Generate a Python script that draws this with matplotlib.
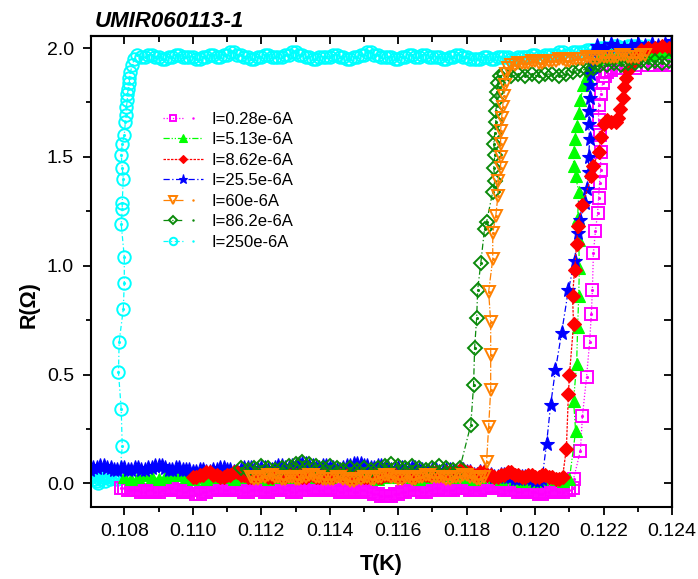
import matplotlib
matplotlib.use('Agg')
import matplotlib.pyplot as plt
from matplotlib.ticker import MultipleLocator, FormatStrFormatter, NullFormatter
from matplotlib.legend_handler import HandlerTuple

plt.rcParams['font.family'] = ['Liberation Sans', 'DejaVu Sans']

# ---- data: T in K, R in ohm ----
labels = ['I=0.28e-6A', 'I=5.13e-6A', 'I=8.62e-6A', 'I=25.5e-6A',
          'I=60e-6A', 'I=86.2e-6A', 'I=250e-6A']

# I = 0.28e-6 A (magenta)
T_mag_base = [0.1079,
              0.1080, 0.1081, 0.1082, 0.1083, 0.1084, 0.1085, 0.1086, 0.1087, 0.1088, 0.1089,
              0.1090, 0.1091, 0.1092, 0.1093, 0.1094, 0.1095, 0.1096, 0.1097, 0.1098, 0.1099,
              0.1100, 0.1101, 0.1102, 0.1103, 0.1104, 0.1105, 0.1106, 0.1107, 0.1108, 0.1109,
              0.1110, 0.1111, 0.1112, 0.1113, 0.1114, 0.1115, 0.1116, 0.1117, 0.1118, 0.1119,
              0.1120, 0.1121, 0.1122, 0.1123, 0.1124, 0.1125, 0.1126, 0.1127, 0.1128, 0.1129,
              0.1130, 0.1131, 0.1132, 0.1133, 0.1134, 0.1135, 0.1136, 0.1137, 0.1138, 0.1139,
              0.1140, 0.1141, 0.1142, 0.1143, 0.1144, 0.1145, 0.1146, 0.1147, 0.1148, 0.1149,
              0.1150, 0.1151, 0.1152, 0.1153, 0.1154, 0.1155, 0.1156, 0.1157, 0.1158, 0.1159,
              0.1160, 0.1161, 0.1162, 0.1163, 0.1164, 0.1165, 0.1166, 0.1167, 0.1168, 0.1169,
              0.1170, 0.1171, 0.1172, 0.1173, 0.1174, 0.1175, 0.1176, 0.1177, 0.1178, 0.1179,
              0.1180, 0.1181, 0.1182, 0.1183, 0.1184, 0.1185, 0.1186, 0.1187, 0.1188, 0.1189,
              0.1190, 0.1191, 0.1192, 0.1193, 0.1194, 0.1195, 0.1196, 0.1197, 0.1198, 0.1199,
              0.1200, 0.1201, 0.1202, 0.1203, 0.1204, 0.1205, 0.1206, 0.1207, 0.1208, 0.1209,
              0.1210, 0.1211]
R_mag_base = [-0.02,
              -0.02, -0.03, -0.03, -0.03, -0.03, -0.04, -0.04, -0.03, -0.03, -0.04,
              -0.04, -0.03, -0.03, -0.02, -0.02, -0.03, -0.03, -0.04, -0.04, -0.03,
              -0.03, -0.05, -0.05, -0.04, -0.04, -0.03, -0.03, -0.02, -0.02, -0.03,
              -0.03, -0.02, -0.02, -0.03, -0.03, -0.04, -0.04, -0.03, -0.03, -0.03,
              -0.03, -0.04, -0.04, -0.03, -0.03, -0.02, -0.02, -0.03, -0.03, -0.04,
              -0.04, -0.03, -0.03, -0.03, -0.03, -0.02, -0.02, -0.03, -0.03, -0.02,
              -0.02, -0.03, -0.03, -0.04, -0.04, -0.03, -0.03, -0.04, -0.04, -0.03,
              -0.03, -0.04, -0.04, -0.05, -0.05, -0.06, -0.06, -0.06, -0.06, -0.05,
              -0.05, -0.04, -0.04, -0.03, -0.03, -0.03, -0.03, -0.04, -0.04, -0.03,
              -0.03, -0.02, -0.02, -0.03, -0.03, -0.03, -0.03, -0.02, -0.02, -0.02,
              -0.02, -0.03, -0.03, -0.03, -0.03, -0.02, -0.02, -0.01, -0.01, -0.02,
              -0.02, -0.03, -0.03, -0.03, -0.03, -0.04, -0.04, -0.03, -0.03, -0.04,
              -0.04, -0.05, -0.05, -0.04, -0.04, -0.03, -0.03, -0.04, -0.04, -0.03,
              -0.03, -0.02]
T_mag_rise = [0.12112, 0.12132, 0.12138, 0.12150, 0.12159, 0.12164, 0.12167, 0.12170, 0.12176, 0.12182,
              0.12185, 0.12188, 0.12191, 0.12191, 0.12188, 0.12185, 0.12185, 0.12191, 0.12197, 0.12203,
              0.1221, 0.1222, 0.1223, 0.1225, 0.1227, 0.1229, 0.1231, 0.1233, 0.1235, 0.1237, 0.1239]
R_mag_rise = [0.02, 0.15, 0.31, 0.49, 0.65, 0.78, 0.89, 1.06, 1.16, 1.24,
              1.31, 1.38, 1.44, 1.52, 1.60, 1.67, 1.74, 1.79, 1.84, 1.87,
              1.89, 1.90, 1.91, 1.91, 1.92, 1.91, 1.92, 1.92, 1.92, 1.93, 1.92]

# I = 5.13e-6 A (lime)
T_lime_base = [0.1080, 0.1082, 0.1084, 0.1086, 0.1088, 0.1090, 0.1092, 0.1094, 0.1096, 0.1098,
               0.1100, 0.1102, 0.1104, 0.1106, 0.1108, 0.1110, 0.1112, 0.1114, 0.1116, 0.1118,
               0.1120, 0.1122, 0.1124, 0.1126, 0.1128, 0.1130, 0.1132, 0.1134, 0.1136, 0.1138,
               0.1140, 0.1142, 0.1144, 0.1146, 0.1148, 0.1150, 0.1152, 0.1154, 0.1156, 0.1158,
               0.1160, 0.1162, 0.1164, 0.1166, 0.1168, 0.1170, 0.1172, 0.1174, 0.1176, 0.1178,
               0.1180, 0.1182, 0.1184, 0.1186, 0.1188, 0.1190, 0.1192, 0.1194, 0.1196, 0.1198,
               0.1200, 0.1202, 0.1204, 0.1206, 0.1208, 0.1210]
R_lime_base = [0.03, 0.02, 0.03, 0.04, 0.03, 0.02, 0.03, 0.04, 0.04, 0.03,
               0.02, 0.03, 0.02, 0.03, 0.04, 0.03, 0.02, 0.03, 0.04, 0.03,
               0.03, 0.02, 0.03, 0.04, 0.03, 0.04, 0.05, 0.04, 0.03, 0.04,
               0.03, 0.04, 0.05, 0.04, 0.03, 0.04, 0.03, 0.02, 0.03, 0.04,
               0.03, 0.04, 0.03, 0.02, 0.03, 0.04, 0.05, 0.04, 0.03, 0.04,
               0.03, 0.02, 0.03, 0.04, 0.03, 0.02, 0.03, 0.02, 0.01, 0.02,
               0.01, 0.02, 0.03, 0.02, 0.01, 0.02]
T_lime_rise = [0.12118, 0.12112, 0.12121, 0.12124, 0.12127, 0.12129, 0.12127, 0.12124, 0.12127, 0.12118,
               0.12112, 0.12112, 0.12115, 0.12121, 0.12127, 0.12132, 0.12141, 0.12150, 0.12162, 0.1218,
               0.1220, 0.1222, 0.1224, 0.1226, 0.1228, 0.1230, 0.1232, 0.1234, 0.1236, 0.1238, 0.1240]
R_lime_rise = [0.24, 0.38, 0.55, 0.72, 0.86, 0.99, 1.12, 1.22, 1.34, 1.41,
               1.46, 1.52, 1.58, 1.64, 1.70, 1.76, 1.83, 1.87, 1.92, 1.95,
               1.96, 1.97, 1.96, 1.97, 1.98, 1.97, 1.98, 1.97, 1.98, 1.99, 1.98]

# I = 8.62e-6 A (red)
T_red_base = [0.1100, 0.1101, 0.1102, 0.1103, 0.1104, 0.1105, 0.1106, 0.1107, 0.1108, 0.1109,
              0.1110, 0.1111, 0.1112, 0.1113, 0.1114, 0.1115, 0.1116, 0.1117, 0.1118, 0.1119,
              0.1120, 0.1121, 0.1122, 0.1123, 0.1124, 0.1125, 0.1126, 0.1127, 0.1128, 0.1129,
              0.1130, 0.1131, 0.1132, 0.1133, 0.1134, 0.1135, 0.1136, 0.1137, 0.1138, 0.1139,
              0.1140, 0.1141, 0.1142, 0.1143, 0.1144, 0.1145, 0.1146, 0.1147, 0.1148, 0.1149,
              0.1150, 0.1151, 0.1152, 0.1153, 0.1154, 0.1155, 0.1156, 0.1157, 0.1158, 0.1159,
              0.1160, 0.1161, 0.1162, 0.1163, 0.1164, 0.1165, 0.1166, 0.1167, 0.1168, 0.1169,
              0.1170, 0.1171, 0.1172, 0.1173, 0.1174, 0.1175, 0.1176, 0.1177, 0.1178, 0.1179,
              0.1180, 0.1181, 0.1182, 0.1183, 0.1184, 0.1185, 0.1186, 0.1187, 0.1188, 0.1189,
              0.1190, 0.1191, 0.1192, 0.1193, 0.1194, 0.1195, 0.1196, 0.1197, 0.1198, 0.1199,
              0.1200, 0.1201, 0.1202, 0.1203, 0.1204, 0.1205, 0.1206, 0.1207, 0.1208]
R_red_base = [0.03, 0.03, 0.04, 0.04, 0.05, 0.05, 0.04, 0.04, 0.03, 0.03,
              0.04, 0.04, 0.05, 0.05, 0.04, 0.04, 0.03, 0.03, 0.04, 0.04,
              0.04, 0.04, 0.03, 0.03, 0.04, 0.04, 0.03, 0.03, 0.04, 0.04,
              0.04, 0.04, 0.03, 0.03, 0.04, 0.04, 0.03, 0.03, 0.04, 0.04,
              0.03, 0.03, 0.04, 0.04, 0.04, 0.04, 0.03, 0.03, 0.04, 0.04,
              0.03, 0.03, 0.04, 0.04, 0.03, 0.03, 0.04, 0.04, 0.04, 0.04,
              0.03, 0.03, 0.04, 0.04, 0.03, 0.03, 0.04, 0.04, 0.04, 0.04,
              0.05, 0.05, 0.04, 0.04, 0.05, 0.05, 0.04, 0.05, 0.06, 0.06,
              0.05, 0.05, 0.04, 0.04, 0.05, 0.05, 0.04, 0.04, 0.03, 0.03,
              0.04, 0.04, 0.05, 0.05, 0.04, 0.04, 0.03, 0.03, 0.04, 0.04,
              0.03, 0.03, 0.04, 0.04, 0.03, 0.03, 0.02, 0.02, 0.03]
T_red_rise = [0.12091, 0.12097, 0.12100, 0.12112, 0.12109, 0.12115, 0.12121, 0.12124, 0.12138, 0.12164,
              0.12170, 0.12185, 0.12191, 0.12202, 0.12211, 0.12222, 0.12235, 0.12243, 0.12249, 0.12255,
              0.12260, 0.12266, 0.12272, 0.12284, 0.12293, 0.1231, 0.1233, 0.1235, 0.1237, 0.1239, 0.1241]
R_red_rise = [0.16, 0.41, 0.50, 0.73, 0.86, 0.98, 1.10, 1.18, 1.28, 1.41,
              1.46, 1.52, 1.59, 1.65, 1.67, 1.66, 1.66, 1.68, 1.72, 1.77,
              1.82, 1.86, 1.90, 1.93, 1.97, 1.99, 2.00, 2.00, 2.01, 2.00, 2.01]

# I = 25.5e-6 A (blue)
T_blue_base = [0.1070, 0.1071, 0.1072, 0.1073, 0.1074, 0.1075, 0.1076, 0.1077, 0.1078, 0.1079,
               0.1080, 0.1081, 0.1082, 0.1083, 0.1084, 0.1085, 0.1086, 0.1087, 0.1088, 0.1089,
               0.1090, 0.1091, 0.1092, 0.1093, 0.1094, 0.1095, 0.1096, 0.1097, 0.1098, 0.1099,
               0.1100, 0.1101, 0.1102, 0.1103, 0.1104, 0.1105, 0.1106, 0.1107, 0.1108, 0.1109,
               0.1110, 0.1111, 0.1112, 0.1113, 0.1114, 0.1115, 0.1116, 0.1117, 0.1118, 0.1119,
               0.1120, 0.1121, 0.1122, 0.1123, 0.1124, 0.1125, 0.1126, 0.1127, 0.1128, 0.1129,
               0.1130, 0.1131, 0.1132, 0.1133, 0.1134, 0.1135, 0.1136, 0.1137, 0.1138, 0.1139,
               0.1140, 0.1141, 0.1142, 0.1143, 0.1144, 0.1145, 0.1146, 0.1147, 0.1148, 0.1149,
               0.1150, 0.1151, 0.1152, 0.1153, 0.1154, 0.1155, 0.1156, 0.1157, 0.1158, 0.1159,
               0.1160, 0.1161, 0.1162, 0.1163, 0.1164, 0.1165, 0.1166, 0.1167, 0.1168, 0.1169,
               0.1170, 0.1171, 0.1172, 0.1173, 0.1174, 0.1175, 0.1176, 0.1177, 0.1178, 0.1179,
               0.1180, 0.1181, 0.1182, 0.1183, 0.1184, 0.1185, 0.1186, 0.1187, 0.1188, 0.1189,
               0.1190, 0.1191, 0.1192, 0.1193, 0.1194, 0.1195, 0.1196, 0.1197, 0.1198, 0.1199,
               0.1200, 0.1201, 0.1202]
R_blue_base = [0.06, 0.07, 0.07, 0.08, 0.08, 0.07, 0.07, 0.06, 0.06, 0.07,
               0.07, 0.06, 0.06, 0.07, 0.07, 0.06, 0.06, 0.07, 0.07, 0.08,
               0.08, 0.08, 0.07, 0.06, 0.06, 0.07, 0.07, 0.06, 0.06, 0.06,
               0.05, 0.05, 0.06, 0.06, 0.05, 0.05, 0.06, 0.06, 0.07, 0.07,
               0.06, 0.06, 0.05, 0.05, 0.06, 0.07, 0.07, 0.07, 0.06, 0.06,
               0.07, 0.07, 0.06, 0.06, 0.07, 0.08, 0.08, 0.07, 0.07, 0.08,
               0.08, 0.09, 0.09, 0.09, 0.08, 0.08, 0.07, 0.07, 0.08, 0.08,
               0.07, 0.07, 0.06, 0.06, 0.07, 0.08, 0.08, 0.09, 0.09, 0.09,
               0.08, 0.08, 0.07, 0.07, 0.08, 0.08, 0.07, 0.07, 0.06, 0.06,
               0.07, 0.07, 0.06, 0.06, 0.07, 0.07, 0.06, 0.06, 0.05, 0.05,
               0.06, 0.06, 0.05, 0.05, 0.06, 0.06, 0.05, 0.05, 0.06, 0.06,
               0.05, 0.05, 0.04, 0.04, 0.05, 0.05, 0.04, 0.04, 0.03, 0.03,
               0.04, 0.04, 0.03, 0.03, 0.02, 0.02, 0.03, 0.03, 0.02, 0.02,
               0.01, 0.01, 0.02]
T_blue_rise = [0.12033, 0.12045, 0.12059, 0.12077, 0.12097, 0.12115, 0.12124, 0.12132, 0.12144, 0.12150,
               0.12156, 0.12156, 0.12159, 0.12156, 0.12156, 0.12159, 0.12159, 0.12162, 0.12165, 0.1217,
               0.1218, 0.1220, 0.1222, 0.1224, 0.1226, 0.1228, 0.1230, 0.1232, 0.1234, 0.1236, 0.1238, 0.1240]
R_blue_rise = [0.18, 0.36, 0.52, 0.69, 0.89, 1.02, 1.15, 1.21, 1.29, 1.35,
               1.43, 1.50, 1.58, 1.65, 1.71, 1.77, 1.83, 1.88, 1.93, 1.98,
               2.01, 2.00, 2.02, 2.01, 2.00, 2.01, 2.02, 2.01, 2.02, 2.01, 2.02, 2.03]

# I = 60e-6 A (orange)
T_orange_base = [0.1117, 0.1118, 0.1119,
                 0.1120, 0.1121, 0.1122, 0.1123, 0.1124, 0.1125, 0.1126, 0.1127, 0.1128, 0.1129,
                 0.1130, 0.1131, 0.1132, 0.1133, 0.1134, 0.1135, 0.1136, 0.1137, 0.1138, 0.1139,
                 0.1140, 0.1141, 0.1142, 0.1143, 0.1144, 0.1145, 0.1146, 0.1147, 0.1148, 0.1149,
                 0.1150, 0.1151, 0.1152, 0.1153, 0.1154, 0.1155, 0.1156, 0.1157, 0.1158, 0.1159,
                 0.1160, 0.1161, 0.1162, 0.1163, 0.1164, 0.1165, 0.1166, 0.1167, 0.1168, 0.1169,
                 0.1170, 0.1171, 0.1172, 0.1173, 0.1174, 0.1175, 0.1176, 0.1177, 0.1178, 0.1179,
                 0.1180, 0.1181, 0.1182, 0.1183, 0.1184, 0.1185]
R_orange_base = [0.03, 0.02, 0.02,
                 0.03, 0.03, 0.04, 0.04, 0.03, 0.03, 0.02, 0.02, 0.03, 0.03,
                 0.02, 0.02, 0.03, 0.03, 0.04, 0.04, 0.03, 0.03, 0.02, 0.02,
                 0.02, 0.02, 0.03, 0.03, 0.02, 0.02, 0.01, 0.01, 0.02, 0.02,
                 0.03, 0.03, 0.02, 0.02, 0.03, 0.03, 0.04, 0.04, 0.03, 0.03,
                 0.02, 0.02, 0.03, 0.03, 0.02, 0.02, 0.03, 0.03, 0.04, 0.04,
                 0.03, 0.03, 0.03, 0.03, 0.02, 0.02, 0.03, 0.03, 0.03, 0.04,
                 0.04, 0.03, 0.03, 0.02, 0.02, 0.03]
T_orange_rise = [0.11858, 0.11864, 0.11870, 0.11870, 0.11870, 0.11864, 0.11876, 0.11876, 0.11885, 0.11891,
                 0.11891, 0.11899, 0.11899, 0.11899, 0.11899, 0.11902, 0.11905, 0.11908, 0.11911, 0.11914]
R_orange_rise = [0.10, 0.26, 0.43, 0.59, 0.74, 0.88, 1.03, 1.15, 1.23, 1.32,
                 1.39, 1.45, 1.50, 1.56, 1.62, 1.68, 1.73, 1.78, 1.83, 1.88]
T_orange_top = [0.1192, 0.1193, 0.1194, 0.1195, 0.1196, 0.1197, 0.1198, 0.1199,
                0.1200, 0.1201, 0.1202, 0.1203, 0.1204, 0.1205, 0.1206, 0.1207, 0.1208, 0.1209,
                0.1210, 0.1211, 0.1212, 0.1213, 0.1214, 0.1215, 0.1216, 0.1217, 0.1218, 0.1219,
                0.1220, 0.1221, 0.1222, 0.1223, 0.1224, 0.1225, 0.1226, 0.1227, 0.1228, 0.1229,
                0.1230, 0.1231, 0.1232]
R_orange_top = [1.91, 1.92, 1.92, 1.93, 1.93, 1.93, 1.93, 1.94,
                1.94, 1.93, 1.93, 1.94, 1.94, 1.94, 1.94, 1.95, 1.95, 1.94,
                1.94, 1.95, 1.95, 1.95, 1.95, 1.96, 1.96, 1.95, 1.95, 1.96,
                1.96, 1.96, 1.96, 1.96, 1.96, 1.97, 1.97, 1.96, 1.96, 1.96,
                1.96, 1.97, 1.97]

# I = 86.2e-6 A (dark green)
T_dgreen_base = [0.1114, 0.1116, 0.1118, 0.1120, 0.1122, 0.1124, 0.1126, 0.1128, 0.1130, 0.1132,
                 0.1134, 0.1136, 0.1138, 0.1140, 0.1142, 0.1144, 0.1146, 0.1148, 0.1150, 0.1152,
                 0.1154, 0.1156, 0.1158, 0.1160, 0.1162, 0.1164, 0.1166, 0.1168, 0.1170, 0.1172,
                 0.1174, 0.1176, 0.1178]
R_dgreen_base = [0.07, 0.06, 0.07, 0.08, 0.07, 0.06, 0.07, 0.08, 0.09, 0.10,
                 0.09, 0.08, 0.07, 0.08, 0.07, 0.06, 0.07, 0.06, 0.07, 0.06,
                 0.07, 0.08, 0.09, 0.08, 0.07, 0.08, 0.07, 0.06, 0.07, 0.08,
                 0.07, 0.06, 0.07]
T_dgreen_rise = [0.11812, 0.11820, 0.11823, 0.11829, 0.11832, 0.11841, 0.11852, 0.11858, 0.11876, 0.11882,
                 0.11879, 0.11882, 0.11879, 0.11882, 0.11885, 0.11885, 0.11888, 0.11888, 0.11891, 0.11897,
                 0.1191, 0.1193, 0.1195, 0.1197, 0.1199, 0.1201, 0.1203, 0.1205, 0.1207, 0.1209,
                 0.1211, 0.1213, 0.1215, 0.1217, 0.1219, 0.1221, 0.1223, 0.1225, 0.1227, 0.1229,
                 0.1231, 0.1233, 0.1235, 0.1237, 0.1239]
R_dgreen_rise = [0.27, 0.45, 0.62, 0.76, 0.89, 1.01, 1.17, 1.20, 1.34, 1.39,
                 1.45, 1.51, 1.56, 1.61, 1.66, 1.71, 1.76, 1.80, 1.84, 1.87,
                 1.88, 1.87, 1.88, 1.87, 1.88, 1.87, 1.88, 1.88, 1.87, 1.88,
                 1.89, 1.90, 1.90, 1.91, 1.92, 1.92, 1.93, 1.92, 1.93, 1.93,
                 1.94, 1.93, 1.94, 1.93, 1.94]

# I = 250e-6 A (cyan)
T_cyan_base = [0.10704, 0.10709, 0.10714, 0.10719, 0.10724, 0.10729, 0.10734, 0.10739, 0.10744, 0.10749,
               0.10754, 0.10759, 0.10764, 0.10769, 0.10774, 0.10779, 0.10786]
R_cyan_base = [0.03, 0.04, 0.02, 0.01, 0.00, 0.02, 0.04, 0.03, 0.01, 0.03,
               0.04, 0.02, 0.03, 0.04, 0.03, 0.02, 0.03]
T_cyan_rise = [0.10794, 0.10791, 0.10783, 0.10785, 0.10797, 0.10800, 0.10800, 0.10791, 0.10794, 0.10794,
               0.10797, 0.10794, 0.10791, 0.10794, 0.10800, 0.10803, 0.10806, 0.10806, 0.10809, 0.10809,
               0.10812, 0.10815, 0.10815, 0.10818, 0.10823, 0.10829, 0.10838]
R_cyan_rise = [0.17, 0.34, 0.51, 0.65, 0.80, 0.92, 1.04, 1.19, 1.26, 1.29,
               1.40, 1.45, 1.51, 1.56, 1.60, 1.66, 1.69, 1.73, 1.76, 1.79,
               1.81, 1.84, 1.86, 1.89, 1.92, 1.95, 1.97]
T_cyan_top = [0.1085, 0.1086, 0.1087, 0.1088, 0.1089,
              0.1090, 0.1091, 0.1092, 0.1093, 0.1094, 0.1095, 0.1096, 0.1097, 0.1098, 0.1099,
              0.1100, 0.1101, 0.1102, 0.1103, 0.1104, 0.1105, 0.1106, 0.1107, 0.1108, 0.1109,
              0.1110, 0.1111, 0.1112, 0.1113, 0.1114, 0.1115, 0.1116, 0.1117, 0.1118, 0.1119,
              0.1120, 0.1121, 0.1122, 0.1123, 0.1124, 0.1125, 0.1126, 0.1127, 0.1128, 0.1129,
              0.1130, 0.1131, 0.1132, 0.1133, 0.1134, 0.1135, 0.1136, 0.1137, 0.1138, 0.1139,
              0.1140, 0.1141, 0.1142, 0.1143, 0.1144, 0.1145, 0.1146, 0.1147, 0.1148, 0.1149,
              0.1150, 0.1151, 0.1152, 0.1153, 0.1154, 0.1155, 0.1156, 0.1157, 0.1158, 0.1159,
              0.1160, 0.1161, 0.1162, 0.1163, 0.1164, 0.1165, 0.1166, 0.1167, 0.1168, 0.1169,
              0.1170, 0.1171, 0.1172, 0.1173, 0.1174, 0.1175, 0.1176, 0.1177, 0.1178, 0.1179,
              0.1180, 0.1181, 0.1182, 0.1183, 0.1184, 0.1185, 0.1186, 0.1187, 0.1188, 0.1189,
              0.1190, 0.1191, 0.1192, 0.1193, 0.1194, 0.1195, 0.1196, 0.1197, 0.1198, 0.1199,
              0.1200, 0.1201, 0.1202, 0.1203, 0.1204, 0.1205, 0.1206, 0.1207, 0.1208, 0.1209,
              0.1210, 0.1211, 0.1212, 0.1213, 0.1214, 0.1215, 0.1216, 0.1217, 0.1218, 0.1219,
              0.1220, 0.1221, 0.1222, 0.1223, 0.1224, 0.1225, 0.1226, 0.1227, 0.1228, 0.1229,
              0.1230, 0.1231, 0.1232, 0.1233]
R_cyan_top = [1.96, 1.96, 1.97, 1.97, 1.96,
              1.96, 1.95, 1.95, 1.96, 1.96, 1.97, 1.97, 1.96, 1.96, 1.96,
              1.96, 1.95, 1.95, 1.96, 1.96, 1.97, 1.97, 1.96, 1.96, 1.97,
              1.97, 1.98, 1.98, 1.97, 1.97, 1.96, 1.96, 1.95, 1.95, 1.96,
              1.96, 1.97, 1.97, 1.96, 1.96, 1.96, 1.96, 1.97, 1.97, 1.98,
              1.98, 1.97, 1.97, 1.96, 1.96, 1.95, 1.95, 1.96, 1.96, 1.96,
              1.96, 1.97, 1.97, 1.96, 1.96, 1.95, 1.95, 1.96, 1.96, 1.97,
              1.97, 1.98, 1.98, 1.97, 1.97, 1.96, 1.96, 1.96, 1.96, 1.95,
              1.95, 1.96, 1.96, 1.97, 1.97, 1.96, 1.96, 1.97, 1.97, 1.96,
              1.96, 1.96, 1.96, 1.95, 1.95, 1.96, 1.96, 1.97, 1.97, 1.96,
              1.96, 1.95, 1.95, 1.95, 1.95, 1.96, 1.96, 1.95, 1.95, 1.96,
              1.96, 1.96, 1.96, 1.95, 1.95, 1.96, 1.96, 1.96, 1.96, 1.97,
              1.97, 1.96, 1.96, 1.97, 1.97, 1.97, 1.97, 1.98, 1.98, 1.97,
              1.97, 1.98, 1.98, 1.98, 1.98, 1.99, 1.99, 1.99, 1.99, 2.00,
              2.00, 2.00, 2.00, 2.01, 2.01, 2.00, 2.00, 2.01, 2.01, 2.01,
              2.01, 2.00, 2.00, 2.01]

# ---- styles (legend order) ----
styles = [
    # T, R, color, marker, markersize, open marker, linestyle
    (T_mag_base + T_mag_rise, R_mag_base + R_mag_rise, '#ff00ff', 's', 8, True, (0, (1, 1.5))),
    (T_lime_base + T_lime_rise, R_lime_base + R_lime_rise, '#00ff00', '^', 8.5, False, (0, (5, 1.5, 1, 1.5, 1, 1.5))),
    (T_red_base + T_red_rise, R_red_base + R_red_rise, '#ff0000', 'D', 7, False, (0, (2, 1))),
    (T_blue_base + T_blue_rise, R_blue_base + R_blue_rise, '#0000ff', '*', 11, False, (0, (5, 2, 1, 2))),
    (T_orange_base + T_orange_rise + T_orange_top, R_orange_base + R_orange_rise + R_orange_top,
     '#ff8000', 'v', 9, True, (0, (6, 1.5, 1, 1.5))),
    (T_dgreen_base + T_dgreen_rise, R_dgreen_base + R_dgreen_rise, '#0a8a0a', 'D', 7.5, True, (0, (5, 2, 1, 2))),
    (T_cyan_base + T_cyan_rise + T_cyan_top, R_cyan_base + R_cyan_rise + R_cyan_top, '#00ffff', 'o', 9, True, (0, (4, 2, 1, 2))),
]
draw_order = [6, 0, 1, 3, 2, 5, 4]

fig = plt.figure(figsize=(6.98, 5.79), dpi=100)
ax = fig.add_axes([0.130, 0.125, 0.833, 0.812])

handles = [None] * len(styles)
for i in draw_order:
    T, R, c, m, ms, hollow, ls = styles[i]
    ln, = ax.plot(T, R, color=c, ls=ls, lw=0.9, marker=m, ms=ms,
                  mfc='none' if hollow else c, mec=c, mew=1.4 if hollow else 0.8)
    if hollow:
        dot, = ax.plot(T, R, ls='none', marker='.', ms=2.5, color=c)
        handles[i] = (ln, dot)
    else:
        handles[i] = ln

ax.set_xlim(0.10702, 0.124)
ax.set_ylim(-0.107, 2.053)
ax.xaxis.set_major_locator(MultipleLocator(0.002))
ax.xaxis.set_minor_locator(MultipleLocator(0.001))
ax.yaxis.set_major_locator(MultipleLocator(0.5))
ax.yaxis.set_minor_locator(MultipleLocator(0.25))
ax.xaxis.set_major_formatter(FormatStrFormatter('%.3f'))
ax.yaxis.set_major_formatter(FormatStrFormatter('%.1f'))
ax.tick_params(which='both', direction='out', width=1.3, labelsize=14, pad=6)
ax.tick_params(which='major', length=6)
ax.tick_params(which='minor', length=3.5)
for sp in ax.spines.values():
    sp.set_linewidth(1.5)

# mirrored ticks pointing inward on top and right
top = ax.secondary_xaxis('top')
top.xaxis.set_major_locator(MultipleLocator(0.002))
top.xaxis.set_minor_locator(MultipleLocator(0.001))
top.xaxis.set_major_formatter(NullFormatter())
top.tick_params(which='both', direction='in', width=1.3)
top.tick_params(which='major', length=6)
top.tick_params(which='minor', length=4)
top.spines['top'].set_linewidth(1.5)

right = ax.secondary_yaxis('right')
right.yaxis.set_major_locator(MultipleLocator(0.5))
right.yaxis.set_minor_locator(MultipleLocator(0.25))
right.yaxis.set_major_formatter(NullFormatter())
right.tick_params(which='both', direction='in', width=1.3)
right.tick_params(which='major', length=6)
right.tick_params(which='minor', length=6)
right.spines['right'].set_linewidth(1.5)

ax.set_xlabel('T(K)', fontsize=15.5, fontweight='bold')
ax.xaxis.set_label_coords(0.5, -0.1)
ax.set_ylabel('R(\u03a9)', fontsize=15.5, fontweight='bold')
ax.yaxis.set_label_coords(-0.088, 0.43)

fig.text(0.136, 0.953, 'UMIR060113-1', fontsize=16, fontweight='bold',
         fontstyle='italic', va='baseline')

ax.legend(handles, labels, loc='upper left', bbox_to_anchor=(0.124, 0.84),
          frameon=False, fontsize=12, markerscale=0.6, handlelength=2.4,
          handletextpad=0.5, labelspacing=0.33, borderpad=0, borderaxespad=0,
          handler_map={tuple: HandlerTuple(ndivide=None)})

fig.savefig('out.png', dpi=100)
